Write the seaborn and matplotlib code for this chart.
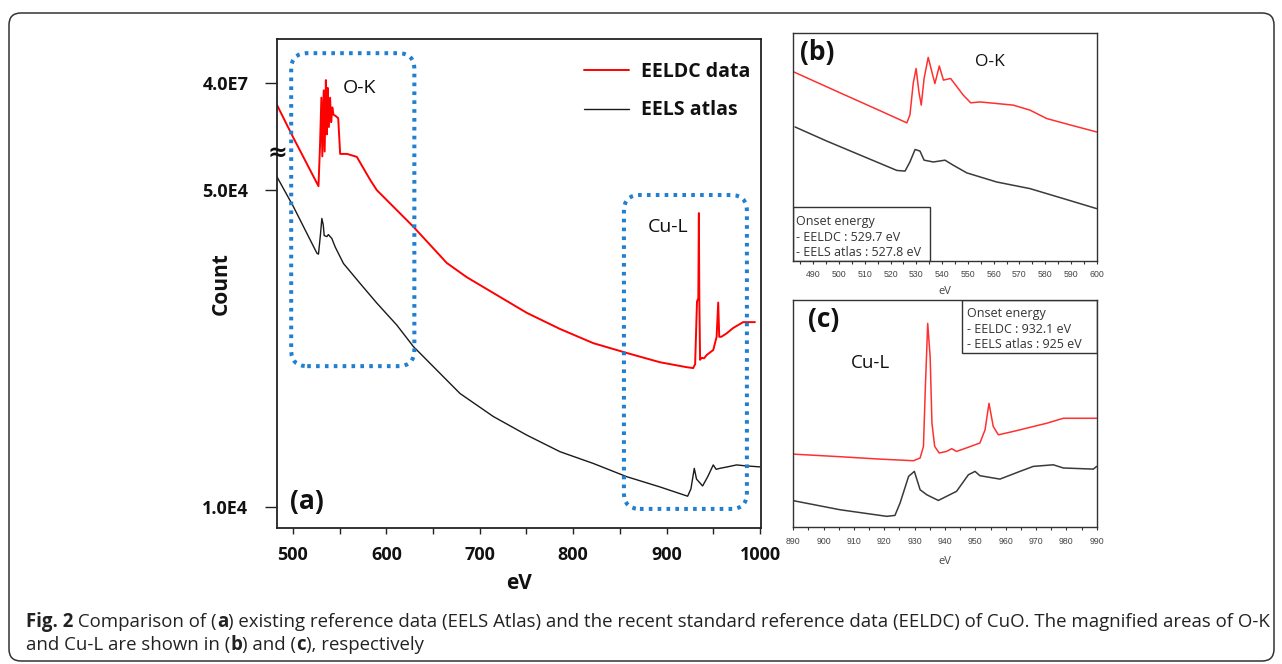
import matplotlib
matplotlib.use("Agg")
import matplotlib.pyplot as plt
import matplotlib.transforms as mtransforms
from matplotlib.patches import FancyBboxPatch, Rectangle
from matplotlib.ticker import MultipleLocator, FixedLocator, FixedFormatter
import seaborn as sns

# ---------------- data ----------------
# Panel (a): full range, y in relative display units of the broken "Count" axis (0..100)
a_red_ev = [483, 500, 527.4, 529.0, 530.5, 531.5, 533.0, 534.0, 535.3, 536.3, 537.3, 538.5,
            539.8, 541.0, 542.2, 543.5, 545.5, 548.5, 550.6, 558, 568.4, 582.7, 589.8, 629,
            664.7, 686, 714.2, 750.3, 785.9, 821.5, 857.2, 892.8, 921, 928.4, 930.5, 932.5,
            933.9, 934.5, 935.0, 935.8, 937.4, 940, 943, 949.9, 953.5, 955.2, 956.3, 958.5,
            964.2, 971.2, 981.9, 994.5]
a_red_cnt = [86.5, 80.0, 69.9, 78.0, 88.0, 76.0, 89.5, 77.0, 91.6, 80.5, 90.0, 82.0,
             88.0, 83.0, 86.0, 84.5, 84.3, 83.8, 76.5, 76.5, 75.9, 71.2, 69.1, 61.6,
             54.2, 51.3, 48.1, 44.0, 40.7, 37.8, 35.8, 33.9, 32.9, 32.7, 33.5, 46.3,
             47.0, 64.4, 47.0, 34.4, 34.8, 34.7, 35.4, 36.4, 39.1, 46.1, 39.1, 39.1,
             39.8, 40.9, 42.1, 42.1]
a_blk_ev = [483, 500.6, 525.7, 527.4, 529.5, 531, 532.5, 533.5, 536.4, 538, 541.7, 545.2,
            554.1, 572, 589.8, 611.2, 629, 678.9, 714.5, 750.3, 785.9, 821.5, 857.2, 892.8,
            922.5, 926, 929.6, 932, 938.5, 944, 949.9, 953, 957, 965, 974.9, 985, 999.8]
a_blk_cnt = [71.8, 65.7, 56.2, 56.0, 60.0, 63.3, 62.0, 59.8, 59.6, 60.0, 59.2, 57.5,
             54.1, 50.0, 46.0, 41.5, 37.1, 27.5, 22.8, 19.0, 15.6, 13.2, 10.5, 8.4,
             6.5, 8.0, 12.2, 10.0, 8.6, 10.5, 12.9, 12.0, 12.2, 12.5, 12.9, 12.7, 12.5]
a_ytick_pos = [4.3, 69.1, 91.0]
a_ytick_lab = ["1.0E4", "5.0E4", "4.0E7"]
a_break_pos = 76.7
ok_region = (498.2, 630.0, 33.1, 97.1)     # eV range / count range of O-K box
cul_region = (854.3, 985.9, 3.9, 68.1)     # eV range / count range of Cu-L box

# Panel (b): O-K edge (relative intensity)
b_red_ev = [482.2, 500, 515, 526.3, 527.5, 528.8, 529.9, 531.0, 531.9, 533.0, 534.6, 536.0,
            537.2, 538.9, 540.5, 543.3, 548.2, 551.1, 554.7, 567.6, 574.1, 580.6, 590, 600]
b_red_int = [83.0, 73.9, 66.3, 60.5, 64.0, 78.0, 84.4, 74.0, 68.3, 80.0, 89.3, 83.0,
             77.8, 85.5, 79.3, 80.0, 72.7, 69.3, 69.7, 68.3, 66.1, 62.4, 59.5, 56.5]
b_blk_ev = [482.9, 495, 506.8, 522.4, 525.6, 527.5, 529.5, 531.4, 533.0, 536.6, 541.1,
            544.3, 549.6, 561.2, 574.1, 587.1, 600]
b_blk_int = [58.7, 52.6, 47.0, 39.6, 39.3, 43.3, 48.8, 48.1, 44.1, 43.3, 44.1,
             41.9, 38.5, 34.5, 31.6, 27.2, 22.8]

# Panel (c): Cu-L edge (relative intensity)
c_red_ev = [890, 905, 918.6, 929.6, 931.8, 932.9, 933.5, 934.3, 935.1, 935.7, 936.6, 938.1,
            940.5, 942.2, 943.8, 947, 951.5, 953.2, 954.5, 955.9, 957.6, 962.5, 973.5, 979.0, 990]
c_red_int = [32.1, 31.0, 29.9, 29.2, 30.4, 35.5, 60.4, 89.7, 75.1, 45.7, 35.5, 32.6,
             33.3, 34.5, 33.3, 34.8, 37.0, 42.8, 54.5, 44.3, 40.6, 42.1, 45.7, 47.9, 47.9]
c_blk_ev = [890, 905.4, 920.8, 923.5, 925.2, 928, 929.9, 931.8, 934, 937.8, 943.8, 947.7,
            949.9, 951.5, 958.1, 964.7, 969.1, 975.7, 979, 988.9, 990]
c_blk_int = [11.6, 7.6, 4.7, 5.1, 10.6, 22.3, 24.5, 16.4, 14.2, 11.7, 15.7, 23.0,
             24.5, 22.6, 21.1, 24.5, 26.7, 27.4, 26.0, 25.5, 26.7]

legend_labels = ["EELDC data", "EELS atlas"]
onset_b = "Onset energy\n- EELDC : 529.7 eV\n- EELS atlas : 527.8 eV"
onset_c = "Onset energy\n- EELDC : 932.1 eV\n- EELS atlas : 925 eV"
caption1 = [("Fig. 2", "bold"), (" Comparison of (", "normal"), ("a", "bold"),
            (") existing reference data (EELS Atlas) and the recent standard reference data "
             "(EELDC) of CuO. The magnified areas of O-K", "normal")]
caption2 = [("and Cu-L are shown in (", "normal"), ("b", "bold"), (") and (", "normal"),
            ("c", "bold"), ("), respectively", "normal")]

# ---------------- styling ----------------
sns.set_theme(style="white")
FONT = ["Open Sans", "DejaVu Sans"]
plt.rcParams["font.family"] = FONT

W, H = 1282, 664
fig = plt.figure(figsize=(W / 100, H / 100), dpi=100)
fig.patch.set_facecolor("white")


def rect(l, t, r, b):
    return [l / W, 1 - b / H, (r - l) / W, (b - t) / H]


RED = "#ff0000"
BLK = "#1a1a1a"
BLUE = "#1f7fd0"

# ---------------- panel (a) ----------------
ax = fig.add_axes(rect(277, 39, 761, 528))
sns.lineplot(x=a_red_ev, y=a_red_cnt, ax=ax, color=RED, linewidth=1.4,
             estimator=None, sort=False, label=legend_labels[0])
sns.lineplot(x=a_blk_ev, y=a_blk_cnt, ax=ax, color=BLK, linewidth=1.0,
             estimator=None, sort=False, label=legend_labels[1])
ax.set_xlim(483, 1001)
ax.set_ylim(0, 100)
ax.xaxis.set_major_locator(MultipleLocator(100))
ax.xaxis.set_minor_locator(MultipleLocator(50))
ax.yaxis.set_major_locator(FixedLocator(a_ytick_pos))
ax.yaxis.set_major_formatter(FixedFormatter(a_ytick_lab))
ax.tick_params(axis="x", which="both", direction="out", length=4.2, width=1.0,
               color="#222", bottom=True, labelsize=13, pad=9)
ax.tick_params(axis="y", which="major", direction="out", length=8.6, width=1.0,
               color="#222", left=True, labelsize=13, pad=12)
for lab in ax.get_xticklabels() + ax.get_yticklabels():
    lab.set_fontweight("bold")
    lab.set_color("#111")
for sp in ax.spines.values():
    sp.set_color("#222")
    sp.set_linewidth(1.3)
ax.set_xlabel("eV", fontsize=15, fontweight="bold", labelpad=6, color="#111")
ax.set_ylabel("Count", fontsize=15, fontweight="bold", color="#111")
ax.yaxis.set_label_coords((232 - 277) / 484, 0.5)

# axis-break mark
bt = mtransforms.blended_transform_factory(ax.transAxes, ax.transData)
ax.text(0.0, a_break_pos, "≈", transform=bt, ha="center", va="center",
        fontsize=17, fontweight="bold", family="DejaVu Sans", color="#111", clip_on=False)

# dotted region boxes
x_per_px = (1001 - 483) / 484
y_per_px = 100 / 489
for (x0, x1, y0, y1) in (ok_region, cul_region):
    p = FancyBboxPatch((x0, y0), x1 - x0, y1 - y0,
                       boxstyle="round,pad=0,rounding_size=%.3f" % (16 * x_per_px),
                       mutation_aspect=y_per_px / x_per_px,
                       fill=False, ec=BLUE, lw=2.9, linestyle=(0, (0.9, 1.3)),
                       capstyle="butt", clip_on=False, zorder=3)
    ax.add_patch(p)

ax.text(359 / W, 1 - 88 / H, "O-K", transform=fig.transFigure, ha="center", va="center",
        fontsize=14, color="#111")
ax.text(668 / W, 1 - 226.5 / H, "Cu-L", transform=fig.transFigure, ha="center", va="center",
        fontsize=14, color="#111")
ax.text(306.5 / W, 1 - 502 / H, "(a)", transform=fig.transFigure, ha="center", va="center",
        fontsize=19, fontweight="bold", color="#111")

leg = ax.legend(loc="upper left", bbox_to_anchor=(584 / W, 1 - 62 / H),
                bbox_transform=fig.transFigure, frameon=False, borderpad=0,
                borderaxespad=0, handlelength=2.3, handletextpad=0.65,
                labelspacing=0.95, prop={"size": 14, "weight": "bold"})
for t in leg.get_texts():
    t.set_color("#111")

# ---------------- panels (b) and (c) ----------------
def small_panel(box, xr, red_x, red_y, blk_x, blk_y):
    axs = fig.add_axes(box)
    sns.lineplot(x=red_x, y=red_y, ax=axs, color="#ff3030", linewidth=1.1,
                 estimator=None, sort=False)
    sns.lineplot(x=blk_x, y=blk_y, ax=axs, color="#3a3a3a", linewidth=1.1,
                 estimator=None, sort=False)
    axs.set_xlim(*xr)
    axs.set_ylim(0, 100)
    axs.set_yticks([])
    axs.xaxis.set_major_locator(MultipleLocator(10))
    axs.xaxis.set_minor_locator(MultipleLocator(5))
    axs.tick_params(axis="x", which="major", direction="out", length=2.5, width=0.8,
                    color="#333", bottom=True, labelsize=6.3, pad=4.5, labelcolor="#444")
    axs.tick_params(axis="x", which="minor", direction="out", length=1.8, width=0.8,
                    color="#333", bottom=True)
    for lab in axs.get_xticklabels():
        lab.set_family(["Liberation Sans", "DejaVu Sans"])
    for sp in axs.spines.values():
        sp.set_color("#333")
        sp.set_linewidth(1.0)
    axs.set_xlabel("")
    axs.set_ylabel("")
    return axs


axb = small_panel(rect(792.7, 33, 1096.7, 260.5), (482, 600),
                  b_red_ev, b_red_int, b_blk_ev, b_blk_int)
axc = small_panel(rect(793.3, 300, 1096.7, 527), (890, 990),
                  c_red_ev, c_red_int, c_blk_ev, c_blk_int)

fig.text(945 / W, 1 - 292 / H, "eV", ha="center", va="center", fontsize=8, color="#444")
fig.text(945 / W, 1 - 562 / H, "eV", ha="center", va="center", fontsize=8, color="#444")

fig.text(817.5 / W, 1 - 52.5 / H, "(b)", ha="center", va="center", fontsize=19,
         fontweight="bold", color="#111")
fig.text(990 / W, 1 - 62 / H, "O-K", ha="center", va="center", fontsize=12.5, color="#111")
fig.text(824 / W, 1 - 320 / H, "(c)", ha="center", va="center", fontsize=19,
         fontweight="bold", color="#111")
fig.text(870 / W, 1 - 363 / H, "Cu-L", ha="center", va="center", fontsize=13.5, color="#111")

# onset boxes
axb.add_patch(Rectangle((0, 0), 0.4516, 0.237, transform=axb.transAxes, fill=False,
                        ec="#333", lw=1.0, zorder=4))
axb.text(0.011, 0.1024, onset_b, transform=axb.transAxes, ha="left", va="center",
         fontsize=9, linespacing=1.25, color="#333")
axc.add_patch(Rectangle((0.555, 0.765), 0.445, 0.235, transform=axc.transAxes, fill=False,
                        ec="#333", lw=1.0, zorder=4))
axc.text(0.573, 0.872, onset_c, transform=axc.transAxes, ha="left", va="center",
         fontsize=9, linespacing=1.25, color="#333")

# ---------------- caption ----------------
renderer = fig.canvas.get_renderer()
CAP_FONT = ["Open Sans", "DejaVu Sans"]


def piece_w(s, w, size):
    t1 = fig.text(0, 0, "|" + s + "|", fontsize=size, fontweight=w, family=CAP_FONT)
    t2 = fig.text(0, 0, "||", fontsize=size, fontweight=w, family=CAP_FONT)
    wd = t1.get_window_extent(renderer).width - t2.get_window_extent(renderer).width
    t1.remove()
    t2.remove()
    return wd


base = 12.0
tot = sum(piece_w(s, w, base) for s, w in caption1)
csize = base * (1267 - 26) / tot


def draw_line(pieces, x0, ybase):
    x = x0
    for s, w in pieces:
        fig.text(x / W, 1 - ybase / H, s, fontsize=csize, fontweight=w, family=CAP_FONT,
                 ha="left", va="baseline", color="#222")
        x += piece_w(s, w, csize)


draw_line(caption1, 26, 627)
draw_line(caption2, 26, 650)

# outer rounded frame
frame = FancyBboxPatch((9 / W, 1 - 661 / H), (1274 - 9) / W, (661 - 13) / H,
                       boxstyle="round,pad=0,rounding_size=%.5f" % (12 / W),
                       mutation_aspect=W / H, transform=fig.transFigure,
                       fill=False, ec="#333", lw=1.1)
fig.add_artist(frame)

fig.savefig("out.png", dpi=100)
